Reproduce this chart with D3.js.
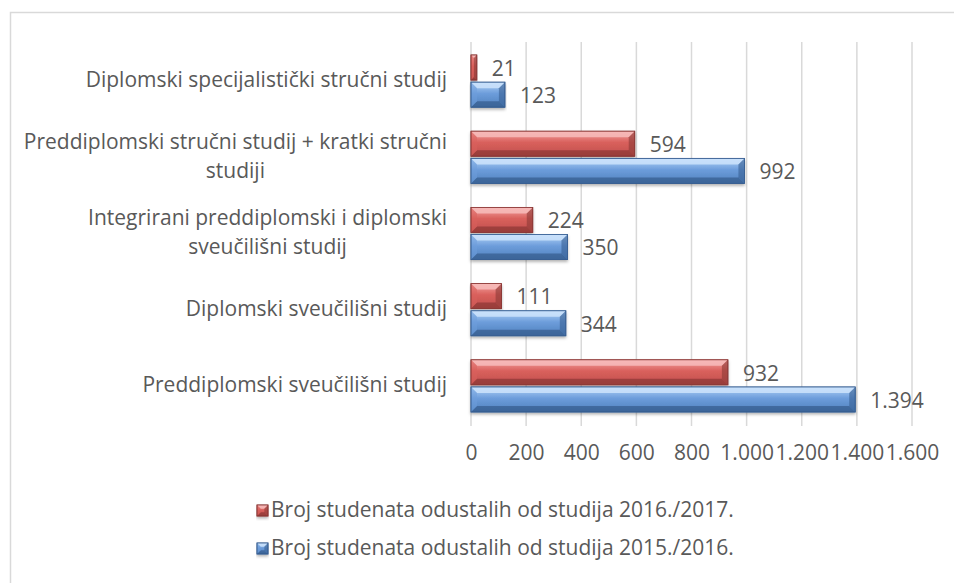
<!DOCTYPE html>
<html>
<head>
<meta charset="utf-8">
<script src="https://cdn.jsdelivr.net/npm/d3@7"></script>
<style>
  body { margin: 0; background: #fff; }
  text { font-family: "Open Sans", Lato, sans-serif; fill: #595959; }
</style>
</head>
<body>
<script>
// categories, top to bottom
const categories = [
  "Diplomski specijalistički stručni studij",
  "Preddiplomski stručni studij + kratki stručni studiji",
  "Integrirani preddiplomski i diplomski sveučilišni  studij",
  "Diplomski sveučilišni studij",
  "Preddiplomski sveučilišni studij"
];
// wrapped label lines as in the picture
const categoryLines = [
  ["Diplomski specijalistički stručni studij"],
  ["Preddiplomski stručni studij + kratki stručni", "studiji"],
  ["Integrirani preddiplomski i diplomski", "sveučilišni  studij"],
  ["Diplomski sveučilišni studij"],
  ["Preddiplomski sveučilišni studij"]
];
const seriesNames = [
  "Broj studenata odustalih od studija 2016./2017.",
  "Broj studenata odustalih od studija 2015./2016."
];
const values2016 = [21, 594, 224, 111, 932];
const values2015 = [123, 992, 350, 344, 1394];
const xTicks = [0, 200, 400, 600, 800, 1000, 1200, 1400, 1600];

const width = 954, height = 583;
const fontSize = 21;
const locale = d3.formatLocale({ decimal: ",", thousands: ".", grouping: [3], currency: ["", " kn"] });
const fmt = locale.format(",d");

const svg = d3.select("body").append("svg")
  .attr("width", width)
  .attr("height", height);

const defs = svg.append("defs");
const palette = [
  { id: "red", light: "#f4a3a1", mid: "#d9605c", base: "#c0504d", dark: "#8c3836", top: "#f7bcbb", bottom: "#7a2e2c" },
  { id: "blue", light: "#b2d3f7", mid: "#6d9ddb", base: "#4f81bd", dark: "#375f93", top: "#cde3fb", bottom: "#2c4f7c" }
];
palette.forEach(p => {
  const g = defs.append("linearGradient").attr("id", "g-" + p.id)
    .attr("x1", 0).attr("y1", 0).attr("x2", 0).attr("y2", 1);
  g.append("stop").attr("offset", "0%").attr("stop-color", p.light);
  g.append("stop").attr("offset", "45%").attr("stop-color", p.mid);
  g.append("stop").attr("offset", "100%").attr("stop-color", p.base);
  const f = defs.append("filter").attr("id", "sh-" + p.id)
    .attr("x", "-5%").attr("y", "-20%").attr("width", "110%").attr("height", "160%");
  f.append("feDropShadow").attr("dx", 0).attr("dy", 2).attr("stdDeviation", 1.5)
    .attr("flood-color", "#000").attr("flood-opacity", 0.3);
});

// chart border
svg.append("rect")
  .attr("x", 10.5).attr("y", 12.5)
  .attr("width", 960).attr("height", 600)
  .attr("fill", "none")
  .attr("stroke", "#d9d9d9")
  .attr("stroke-width", 1.5);

const x = d3.scaleLinear().domain([0, 1600]).range([471, 912]);
const y = d3.scaleBand().domain(categories).range([42, 423]);
const sub = d3.scaleBand().domain([0, 1])
  .range([13, y.bandwidth() - 11]).paddingInner(0.08);

// gridlines
svg.append("g")
  .selectAll("line")
  .data(xTicks)
  .join("line")
  .attr("x1", d => x(d)).attr("x2", d => x(d))
  .attr("y1", 42).attr("y2", 426)
  .attr("stroke", "#d9d9d9")
  .attr("stroke-width", 1.5);

// x axis labels
const xAxis = svg.append("g")
  .attr("transform", "translate(0,426)")
  .call(d3.axisBottom(x).tickValues(xTicks).tickFormat(fmt).tickSize(0).tickPadding(19));
xAxis.select(".domain").remove();
xAxis.selectAll("text")
  .attr("font-size", fontSize)
  .attr("fill", "#595959")
  .style("font-family", "'Open Sans', sans-serif");

// category labels
const catG = svg.append("g");
const lh = 29;
categories.forEach((c, i) => {
  const lines = categoryLines[i];
  const cy = y(c) + y.bandwidth() / 2 - (lines.length - 1) * lh / 2;
  const t = catG.append("text")
    .attr("font-size", fontSize)
    .attr("text-anchor", lines.length > 1 ? "middle" : "end");
  lines.forEach((l, k) => {
    t.append("tspan")
      .attr("x", 447)
      .attr("y", cy + k * lh)
      .attr("dy", "0.35em")
      .text(l);
  });
  // multi-line labels are centred under their widest line, right edge at 447
  if (lines.length > 1) {
    const w0 = d3.max(t.selectAll("tspan").nodes(), n => n.getComputedTextLength());
    t.selectAll("tspan").attr("x", 447 - w0 / 2);
  }
});

// bars
const series = [values2016, values2015];
function bevelBar(g, x0, x1, y0, h, p) {
  const w = x1 - x0;
  const b = Math.min(6, w / 2, h / 3);
  g.append("rect")
    .attr("x", x0).attr("y", y0).attr("width", w).attr("height", h)
    .attr("fill", "url(#g-" + p.id + ")")
    .attr("stroke", p.dark).attr("stroke-width", 0.8)
    .attr("filter", "url(#sh-" + p.id + ")");
  // top bevel
  g.append("path")
    .attr("d", `M${x0},${y0}L${x1},${y0}L${x1 - b},${y0 + b}L${x0 + b},${y0 + b}Z`)
    .attr("fill", p.top).attr("opacity", 0.85);
  // bottom bevel
  g.append("path")
    .attr("d", `M${x0},${y0 + h}L${x1},${y0 + h}L${x1 - b},${y0 + h - b}L${x0 + b},${y0 + h - b}Z`)
    .attr("fill", p.bottom).attr("opacity", 0.55);
  // right bevel
  g.append("path")
    .attr("d", `M${x1},${y0}L${x1},${y0 + h}L${x1 - b},${y0 + h - b}L${x1 - b},${y0 + b}Z`)
    .attr("fill", p.dark).attr("opacity", 0.6);
  // left bevel
  g.append("path")
    .attr("d", `M${x0},${y0}L${x0},${y0 + h}L${x0 + b},${y0 + h - b}L${x0 + b},${y0 + b}Z`)
    .attr("fill", p.mid).attr("opacity", 0.5);
  g.append("rect")
    .attr("x", x0).attr("y", y0).attr("width", w).attr("height", h)
    .attr("fill", "none")
    .attr("stroke", p.dark).attr("stroke-width", 0.8);
}

series.forEach((vals, s) => {
  const p = palette[s];
  const g = svg.append("g");
  vals.forEach((v, i) => {
    const y0 = y(categories[i]) + sub(s);
    bevelBar(g, x(0), x(v), y0, sub.bandwidth(), p);
  });
  svg.append("g")
    .selectAll("text")
    .data(vals)
    .join("text")
    .attr("x", d => x(d) + 15)
    .attr("y", (d, i) => y(categories[i]) + sub(s) + sub.bandwidth() / 2 + 1)
    .attr("dy", "0.35em")
    .attr("font-size", fontSize)
    .attr("fill", "#404040")
    .text(d => fmt(d));
});

// legend
const legend = svg.append("g");
seriesNames.forEach((n, i) => {
  const ly = 510 + i * 38;
  const box = legend.append("g");
  bevelBar(box, 257, 268, ly - 5, 11, palette[i]);
  legend.append("text")
    .attr("x", 271)
    .attr("y", ly)
    .attr("dy", "0.35em")
    .attr("font-size", fontSize)
    .text(n);
});
</script>
</body>
</html>
